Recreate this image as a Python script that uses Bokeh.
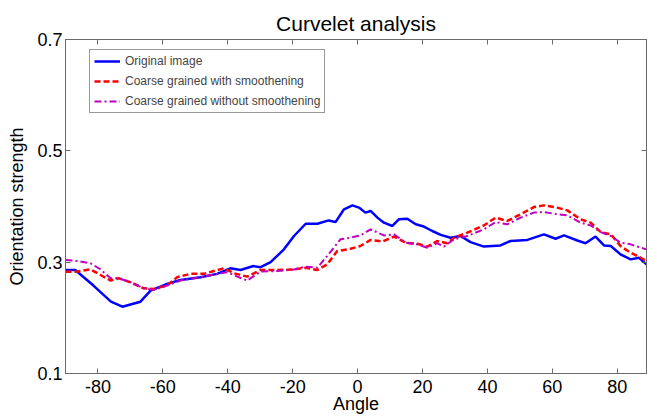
from bokeh.plotting import figure
from bokeh.models import LinearAxis, Legend, LegendItem, FixedTicker, Range1d, CustomJSTickFormatter
from bokeh.embed import file_html
from bokeh.resources import INLINE

# Orientation strength versus angle for the three image variants
angle_orig = [-90, -87, -81.4, -76, -72.5, -66.9, -63.8, -58.7, -54.6, -48.4, -43.3, -39.2,
              -36.1, -32.1, -29.9, -26.8, -22.7, -19.6, -16, -12.4, -8.9, -6.8, -4.2, -1.6,
              0.4, 2.4, 4, 6.1, 8.1, 10.7, 12.7, 15.3, 17.9, 20.4, 23, 25.6, 28.6, 31.7,
              34.8, 38.9, 44, 47.1, 52.3, 57.4, 61, 63.6, 67.7, 70.2, 73.3, 75.9, 78, 81,
              84.1, 86.7, 89]
strength_orig = [0.286, 0.286, 0.258, 0.229, 0.220, 0.229, 0.249, 0.261, 0.268, 0.273, 0.279,
                 0.289, 0.286, 0.293, 0.291, 0.300, 0.323, 0.347, 0.369, 0.369, 0.375, 0.372,
                 0.395, 0.402, 0.398, 0.389, 0.392, 0.380, 0.371, 0.365, 0.377, 0.378, 0.368,
                 0.364, 0.356, 0.349, 0.344, 0.347, 0.336, 0.328, 0.330, 0.338, 0.340, 0.350,
                 0.342, 0.348, 0.339, 0.334, 0.346, 0.330, 0.329, 0.314, 0.305, 0.308, 0.296]

angle_smooth = [-90, -86.4, -82.3, -79.2, -76.1, -73.6, -70, -65.9, -62.8, -58.7, -55.6, -51.5,
                -47.4, -44.3, -41.2, -38.1, -34, -29.9, -24.8, -19.6, -16, -12.4, -9.4, -6.3,
                -2.2, 0.9, 4, 7.6, 11.2, 14.8, 18.4, 21.5, 24.5, 27.6, 29.7, 33.8, 38.9, 42.5,
                46.1, 50.2, 54.3, 57.4, 61.5, 64.6, 68.7, 71.8, 74.9, 78, 81, 84.1, 87.2, 89]
strength_smooth = [0.283, 0.283, 0.287, 0.277, 0.267, 0.271, 0.264, 0.253, 0.252, 0.258, 0.273,
                   0.279, 0.279, 0.284, 0.289, 0.280, 0.274, 0.286, 0.286, 0.287, 0.290, 0.286,
                   0.296, 0.320, 0.324, 0.329, 0.340, 0.337, 0.346, 0.335, 0.333, 0.328, 0.338,
                   0.334, 0.344, 0.353, 0.366, 0.380, 0.374, 0.386, 0.399, 0.402, 0.398, 0.393,
                   0.377, 0.371, 0.354, 0.350, 0.329, 0.317, 0.308, 0.302]

angle_raw = [-90, -86.4, -82.3, -79.2, -76.1, -73.6, -70, -65.9, -62.8, -58.7, -54.6, -48.4,
             -43.3, -40.2, -37.1, -34, -29.9, -24.8, -19.6, -16, -12.4, -9.4, -5.3, -2.2, 0.9,
             4, 8.1, 11.2, 14.8, 18.4, 21.5, 24.5, 26.6, 29.7, 33.8, 38.9, 42.5, 46.1, 50.2,
             54.3, 57.4, 61.5, 64.6, 68.7, 71.8, 74.9, 78, 81, 84.1, 87.2, 89]
strength_raw = [0.304, 0.302, 0.298, 0.287, 0.271, 0.271, 0.264, 0.253, 0.250, 0.258, 0.267,
                0.273, 0.279, 0.282, 0.274, 0.267, 0.283, 0.284, 0.287, 0.292, 0.290, 0.311,
                0.341, 0.344, 0.348, 0.359, 0.348, 0.350, 0.335, 0.332, 0.326, 0.334, 0.328,
                0.341, 0.347, 0.359, 0.372, 0.368, 0.380, 0.389, 0.390, 0.386, 0.384, 0.371,
                0.366, 0.354, 0.347, 0.335, 0.332, 0.326, 0.323]

x_ticks = [-80, -60, -40, -20, 0, 20, 40, 60, 80]
y_ticks = [0.1, 0.3, 0.5, 0.7]

FONT = "Liberation Sans"
AXIS_GREY = "#6a6a6a"

p = figure(width=647, height=416, output_backend="svg", toolbar_location=None,
           x_range=Range1d(-90, 89), y_range=Range1d(0.1, 0.7),
           min_border_left=65, min_border_right=1, min_border_top=39, min_border_bottom=41)

p.title.text = "Curvelet analysis"
p.title.align = "center"
p.title.text_font = FONT
p.title.text_font_size = "21px"
p.title.text_font_style = "normal"
p.title.text_color = "black"

p.xgrid.visible = False
p.ygrid.visible = False
p.outline_line_color = AXIS_GREY
p.background_fill_color = "white"
p.border_fill_color = "white"


def style_axis(ax, show_labels=True):
    ax.axis_line_color = AXIS_GREY
    ax.major_tick_line_color = AXIS_GREY
    ax.major_tick_in = 5
    ax.major_tick_out = 0
    ax.minor_tick_line_color = None
    ax.major_label_text_font = FONT
    ax.major_label_text_font_size = "18px"
    ax.major_label_text_color = "black" if show_labels else None
    ax.major_label_standoff = 3
    ax.axis_label_text_font = FONT
    ax.axis_label_text_font_size = "18px"
    ax.axis_label_text_font_style = "normal"
    ax.axis_label_text_color = "black"


# plain hyphen for negative tick values
plain_fmt = "return String(Math.round(tick * 10) / 10);"

xa = p.xaxis[0]
xa.ticker = FixedTicker(ticks=x_ticks)
xa.formatter = CustomJSTickFormatter(code=plain_fmt)
xa.axis_label = "Angle"
style_axis(xa)
xa.major_label_standoff = 6
xa.axis_label_standoff = -2

ya = p.yaxis[0]
ya.ticker = FixedTicker(ticks=y_ticks)
ya.axis_label = "Orientation strength"
ya.axis_label_standoff = 7
style_axis(ya)

top_ax = LinearAxis(ticker=FixedTicker(ticks=x_ticks))
style_axis(top_ax, show_labels=False)
top_ax.major_label_text_font_size = "0px"
p.add_layout(top_ax, "above")

right_ax = LinearAxis(ticker=FixedTicker(ticks=y_ticks))
style_axis(right_ax, show_labels=False)
right_ax.major_label_text_font_size = "0px"
p.add_layout(right_ax, "right")

r_orig = p.line(angle_orig, strength_orig, line_color="#0000ff", line_width=2.5)
r_smooth = p.line(angle_smooth, strength_smooth, line_color="#ff0000", line_width=2.5,
                  line_dash="6 3")
r_raw = p.line(angle_raw, strength_raw, line_color="#bf00bf", line_width=2,
               line_dash="7 3 2 3")

legend = Legend(items=[
    LegendItem(label="Original image", renderers=[r_orig]),
    LegendItem(label="Coarse grained with smoothening", renderers=[r_smooth]),
    LegendItem(label="Coarse grained without smoothening", renderers=[r_raw]),
], location=(24, 260))
legend.label_text_font = FONT
legend.label_text_font_size = "12px"
legend.label_standoff = 5
legend.glyph_width = 26
legend.glyph_height = 14
legend.spacing = 6
legend.padding = 4
legend.margin = 0
legend.label_height = 14
legend.border_line_color = "#333333"
legend.border_line_width = 1
legend.background_fill_alpha = 1
p.add_layout(legend, "center")

open("out.html", "w").write(file_html(p, INLINE))
